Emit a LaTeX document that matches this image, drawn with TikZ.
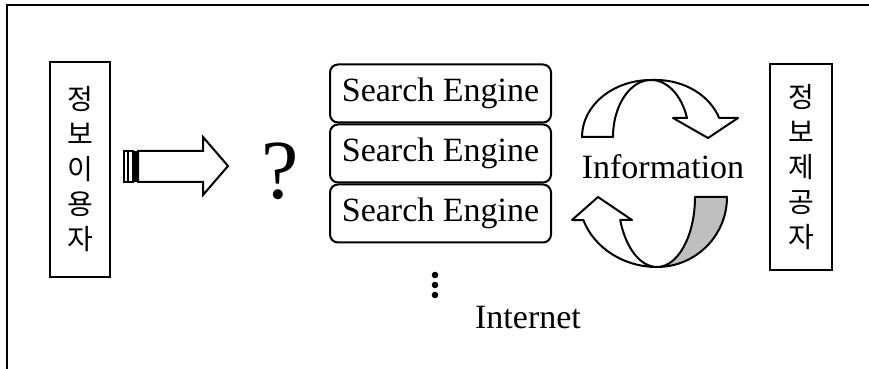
\documentclass[tikz,border=0pt]{standalone}
\usepackage{fontspec}
\setmainfont{Liberation Serif}
\newfontfamily\kr{Noto Sans CJK KR}
\usetikzlibrary{positioning}
\tikzset{
	sidebox/.style={draw, line width=1pt, inner sep=0pt, align=center, font=\kr\fontsize{14}{17.5}\selectfont},
	engine/.style={draw, line width=1pt, rounded corners=4pt, minimum width=110.5pt, minimum height=29pt, inner sep=0pt, font=\fontsize{17}{19}\selectfont},
	ribbon/.style={draw, line width=1pt, line join=round},
	label/.style={font=\fontsize{17}{19}\selectfont},
}

\begin{document}
\begin{tikzpicture}[x=0.5pt, y=-0.5pt]
			%%%%% START %%%%%
			\useasboundingbox (0,0) rectangle (869,369);
			
			\draw[line width=1.1pt] (869,5) -- (7,5) -- (7,369);
			
			\node[sidebox, minimum width=30pt, minimum height=107.5pt] (user) at (80,169.5) {정\\보\\이\\용\\자};
			\node[sidebox, minimum width=31pt, minimum height=103pt] (provider) at (801,167) {정\\보\\제\\공\\자};
			
			\draw[line width=0.6pt] (124,151) rectangle (128,182) (128,151) rectangle (133,182);
			\fill (133,151) rectangle (138,182);
			\draw[line width=1pt, line join=miter] (138,151) -- (203,151) -- (203,137) -- (228,166) -- (203,195) -- (203,182) -- (138,182) -- cycle;
			
			\node[font=\fontsize{42}{42}\selectfont, inner sep=0pt] (ask) at (280,171) {?};
			
			\node[engine] (se1) at (440.5,93.5) {Search Engine};
			\node[engine, below=0pt of se1] (se2) {Search Engine};
			\node[engine, below=0pt of se2] (se3) {Search Engine};
			
			\foreach \k in {275,285,295}
				\fill (435,\k) circle (3.3);
			\node[label] (net) at (528,318) {Internet};
			
			% upper ribbon
			\draw[ribbon, fill=white] (582,137) arc[start angle=180, end angle=270, x radius=69, y radius=57]
				arc[start angle=270, end angle=180, x radius=38, y radius=57] -- cycle;
			\draw[ribbon, fill=white] (651,80) -- (656,80) arc[start angle=270, end angle=340.5, x radius=67, y radius=57]
				-- (738,118) -- (708,138) -- (673,118) -- (687,118)
				arc[start angle=340.5, end angle=270, x radius=38, y radius=57] -- cycle;
			
			% lower ribbon
			\draw[ribbon, fill=black!25] (727,197) arc[start angle=0, end angle=90, x radius=70, y radius=70]
				arc[start angle=90, end angle=0, x radius=38, y radius=70] -- cycle;
			\draw[ribbon, fill=white] (657,267) arc[start angle=90, end angle=160.8, x radius=78, y radius=70]
				-- (572,220) -- (598,197) -- (632,220) -- (620.2,220)
				arc[start angle=160.8, end angle=90, x radius=39, y radius=70] -- cycle;
			
			\node[label] (info) at (663,167) {Information};
			%%%%% END %%%%%
\end{tikzpicture}
\end{document}
